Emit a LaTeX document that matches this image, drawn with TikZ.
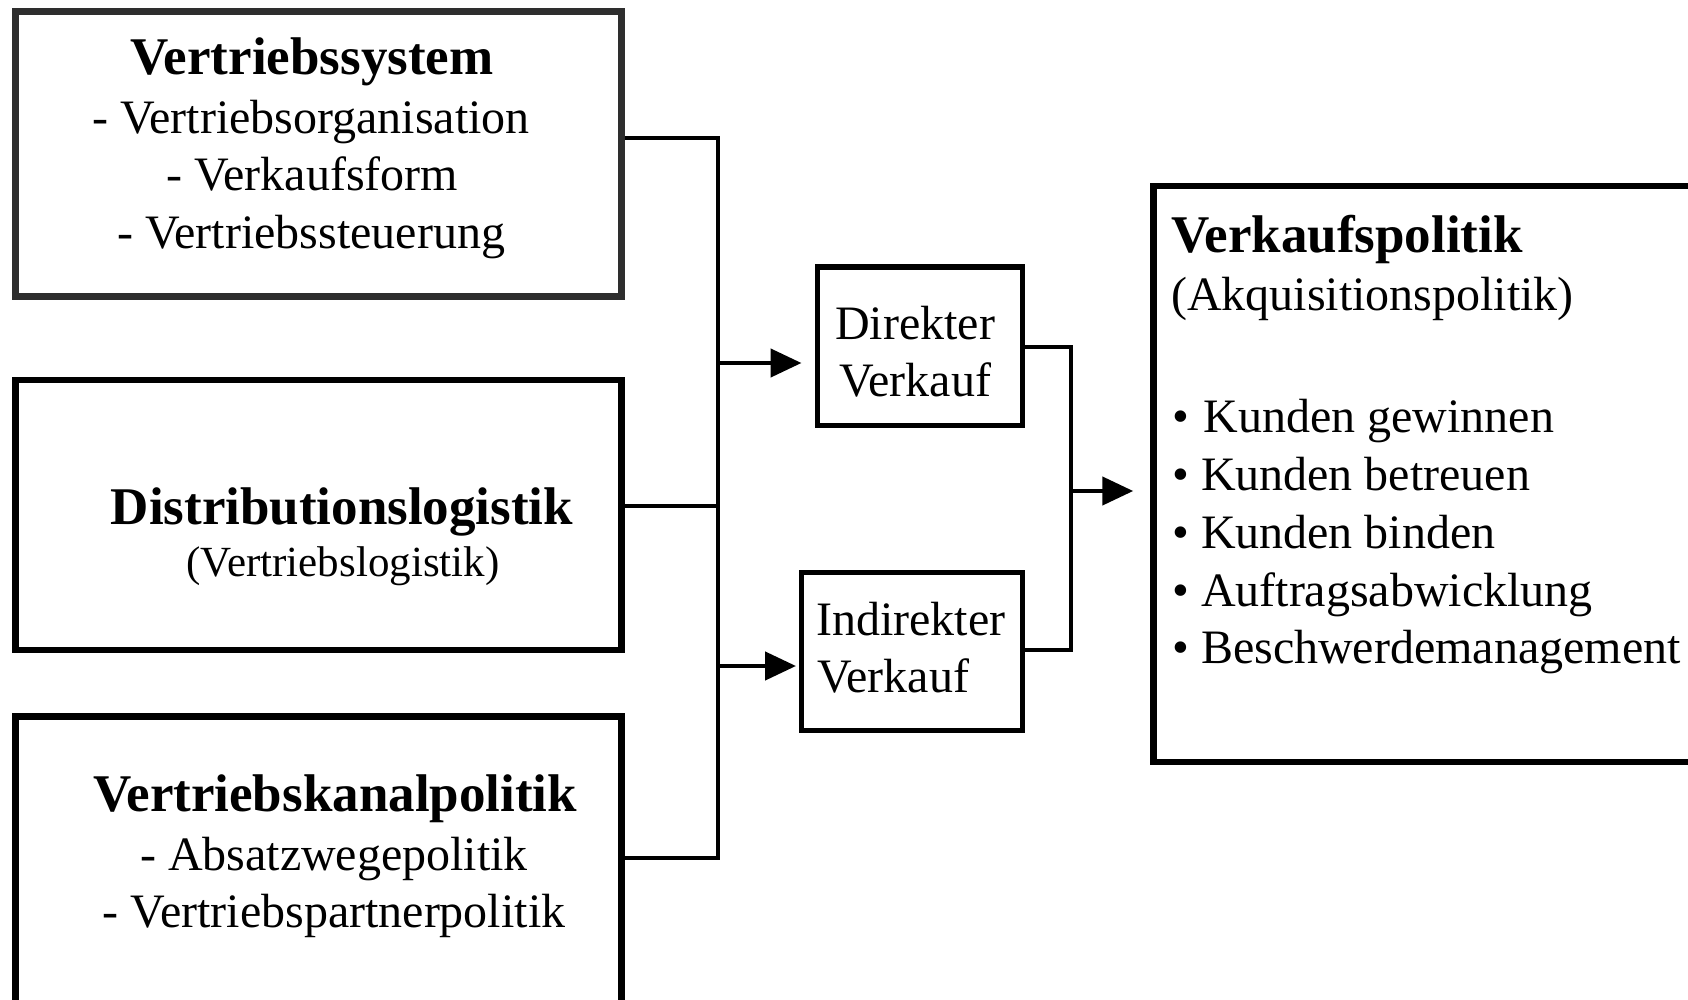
\documentclass[tikz,border=0pt]{standalone}
\usepackage{fontspec}
\setmainfont{Liberation Serif}
\usetikzlibrary{arrows.meta}
\begin{document}
\begin{tikzpicture}[x=1pt,y=-1pt,
  bigbox/.style={draw, line width=6.5pt, inner sep=0pt},
  smallbox/.style={draw, line width=5pt, inner sep=0pt},
  ttl/.style={anchor=base, inner sep=0pt, font=\bfseries\fontsize{53}{60}\selectfont},
  txt/.style={anchor=base, inner sep=0pt, font=\fontsize{48}{55}\selectfont},
  sub/.style={anchor=base, inner sep=0pt, font=\fontsize{43}{50}\selectfont},
  conn/.style={line width=4.5pt},
  arr/.style={line width=4.5pt, -{Triangle[length=31pt,width=28pt]}}]
\useasboundingbox (0,0) rectangle (1688,1000);
\fill[white] (0,0) rectangle (1688,1000);

% left boxes
\node[bigbox, draw=black!82, minimum width=606pt, minimum height=285pt] (vs) at (318.5,154) {};
\node[bigbox, minimum width=606pt, minimum height=270pt] (dl) at (318.5,515) {};
\node[bigbox, minimum width=606pt, minimum height=320pt] (vk) at (318.5,876.5) {};

\node[ttl] (vsT) at (312,75) {Vertriebssystem};
\node[txt] (vsA) at (311,134) {- Vertriebsorganisation};
\node[txt] (vsB) at (312,191) {- Verkaufsform};
\node[txt] (vsC) at (311,249) {- Vertriebssteuerung};

\node[ttl] (dlT) at (342,524) {Distributionslogistik};
\node[sub] (dlA) at (343,576) {(Vertriebslogistik)};

\node[ttl] (vkT) at (335,811) {Vertriebskanalpolitik};
\node[txt] (vkA) at (334,870) {- Absatzwegepolitik};
\node[txt] (vkB) at (334,927) {- Vertriebspartnerpolitik};

% middle boxes
\node[smallbox, minimum width=205pt, minimum height=158pt] (dv) at (919.5,346) {};
\node[txt] (dvA) at (915,339) {Direkter};
\node[txt] (dvB) at (915,396) {Verkauf};

\node[smallbox, minimum width=221pt, minimum height=158pt] (iv) at (911.5,651) {};
\node[txt, anchor=base west] (ivA) at (816,635) {Indirekter};
\node[txt, anchor=base west] (ivB) at (817,692) {Verkauf};

% right box
\node[bigbox, minimum width=580pt, minimum height=576pt] (vp) at (1443.5,474) {};
\node[ttl, anchor=base west] (vpT) at (1171,252) {Verkaufspolitik};
\node[txt, anchor=base west] (vpA) at (1171,310) {(Akquisitionspolitik)};
\node[txt, anchor=base west] (b1) at (1172,432) {•\hspace{0.3em}Kunden gewinnen};
\node[txt, anchor=base west] (b2) at (1172,490) {• Kunden betreuen};
\node[txt, anchor=base west] (b3) at (1172,548) {• Kunden binden};
\node[txt, anchor=base west] (b4) at (1172,606) {• Auftragsabwicklung};
\node[txt, anchor=base west] (b5) at (1172,663) {• Beschwerdemanagement};

% connectors left
\coordinate (jt) at (718,138);
\coordinate (jm) at (718,506);
\coordinate (jb) at (718,858);
\coordinate (ja1) at (718,363);
\coordinate (ja2) at (718,666);
\draw[conn] (vs.east |- jt) -- (jt) -- (jb) -- (vk.east |- jb);
\draw[conn] (dl.east |- jm) -- (jm);
\draw[arr] (ja1) -- ([xshift=-13pt]dv.west |- ja1);
\draw[arr] (ja2) -- ([xshift=-2.5pt]iv.west |- ja2);

% connectors right
\coordinate (kt) at (1071,347);
\coordinate (kb) at (1071,650);
\coordinate (km) at (1071,491);
\draw[conn] (dv.east |- kt) -- (kt) -- (kb) -- (iv.east |- kb);
\draw[arr] (km) -- ([xshift=-17pt]vp.west |- km);
\end{tikzpicture}
\end{document}
